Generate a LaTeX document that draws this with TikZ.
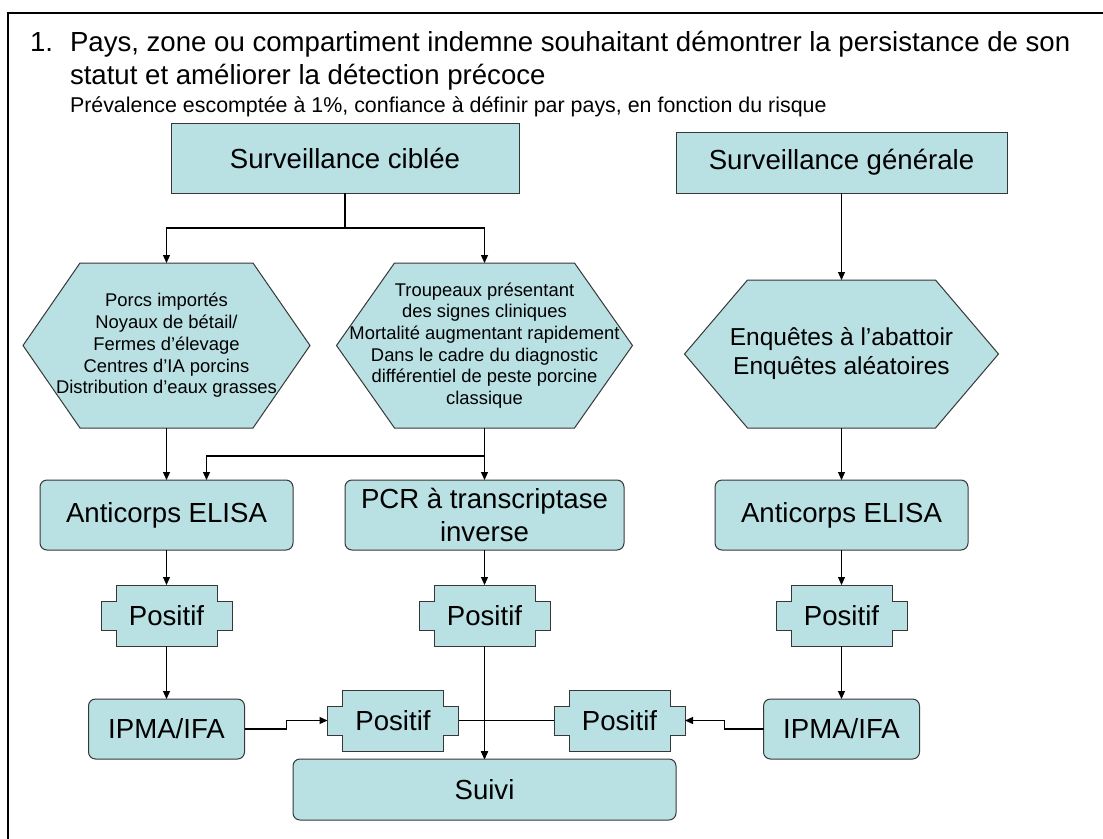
\documentclass[tikz,border=0pt]{standalone}
\usepackage{fontspec}
\setmainfont{Liberation Sans}
\usepackage{xcolor}
\usepackage{tikz}
\usetikzlibrary{arrows.meta,backgrounds}
\definecolor{cyanfill}{RGB}{185,224,227}
\definecolor{edge}{RGB}{55,55,55}
\newcommand{\boxfont}{\fontsize{27.6}{33}\selectfont}
\newcommand{\hexfont}{\fontsize{18.4}{21.7}\selectfont}
\newcommand{\enqfont}{\fontsize{24.5}{29}\selectfont}
\newcommand{\subfont}{\fontsize{21.4}{25}\selectfont}
\tikzset{
  titre/.style={inner sep=0pt, outer sep=0pt, anchor=base west, font=\boxfont},
  soustitre/.style={inner sep=0pt, outer sep=0pt, anchor=base west, font=\subfont},
  sqbox/.style={draw=edge, fill=cyanfill, line width=1pt, inner sep=0pt, outer sep=0pt, align=center, font=\boxfont},
  rbox/.style={sqbox, rounded corners=7pt},
  hexnode/.style={inner sep=0pt, outer sep=0pt, align=center, font=\hexfont},
  posnode/.style={inner sep=0pt, outer sep=0pt, minimum width=131pt, minimum height=61pt, font=\boxfont},
  shapeline/.style={draw=edge, fill=cyanfill, line width=1pt},
  line/.style={-{Triangle[length=8pt,width=7pt]}, line width=1.2pt}
}
\newcommand{\hexout}[2]{\draw[shapeline] ([xshift=#2]#1.north west) -- ([xshift=-#2]#1.north east) -- (#1.east) -- ([xshift=-#2]#1.south east) -- ([xshift=#2]#1.south west) -- (#1.west) -- cycle;}
\newcommand{\posout}[1]{\draw[shapeline] ([xshift=15pt]#1.north west) -- ([xshift=-15pt]#1.north east) -- ([xshift=-15pt,yshift=-16pt]#1.north east) -- ([yshift=-16pt]#1.north east) -- ([yshift=16pt]#1.south east) -- ([xshift=-15pt,yshift=16pt]#1.south east) -- ([xshift=-15pt]#1.south east) -- ([xshift=15pt]#1.south west) -- ([xshift=15pt,yshift=16pt]#1.south west) -- ([yshift=16pt]#1.south west) -- ([yshift=-16pt]#1.north west) -- ([xshift=15pt,yshift=-16pt]#1.north west) -- cycle;}

\begin{document}
\begin{tikzpicture}[x=1pt,y=-1pt]
        \useasboundingbox (0,0) rectangle (1103,838);
        \draw[line width=2pt] (8,840) -- (8,13) -- (1105,13);
        \node[titre] (num) at (30,51) {1.};
        \node[titre] (ligneA) at (70,51) {Pays, zone ou compartiment indemne souhaitant démontrer la persistance de son};
        \node[titre] (ligneB) at (70,84) {statut et améliorer la détection précoce};
        \node[soustitre] (prev) at (70,112) {Prévalence escomptée à 1\%, confiance à définir par pays, en fonction du risque};
        \node[sqbox, minimum width=348pt, minimum height=70pt] (ciblee) at (345,158) {Surveillance ciblée};
        \node[sqbox, minimum width=331pt, minimum height=61pt] (generale) at (841.5,162.5) {Surveillance générale};
        \node[hexnode, minimum width=287pt, minimum height=165pt] (porcs) at (166.5,345.5) {Porcs importés\\Noyaux de bétail/\\Fermes d’élevage\\Centres d’IA porcins\\Distribution d’eaux grasses};
        \node[hexnode, minimum width=296pt, minimum height=165pt] (signes) at (484.5,345.5) {Troupeaux présentant\\des signes cliniques\\Mortalité augmentant rapidement\\Dans le cadre du diagnostic\\différentiel de peste porcine\\classique};
        \node[hexnode, font=\enqfont, minimum width=314pt, minimum height=148pt] (abattoir) at (841.5,354) {Enquêtes à l’abattoir\\Enquêtes aléatoires};
        \node[rbox, minimum width=253pt, minimum height=70pt] (elisaA) at (166.5,515) {Anticorps ELISA};
        \node[rbox, minimum width=279pt, minimum height=70pt] (pcr) at (484.5,515) {PCR à transcriptase\\inverse};
        \node[rbox, minimum width=253pt, minimum height=70pt] (elisaC) at (841.5,515) {Anticorps ELISA};
        \node[posnode] (posA) at (166.5,615.5) {Positif};
        \node[posnode] (posB) at (484.5,615.5) {Positif};
        \node[posnode] (posC) at (841.5,615.5) {Positif};
        \node[rbox, minimum width=156pt, minimum height=60pt] (ipmaA) at (166.5,729) {IPMA/IFA};
        \node[rbox, minimum width=156pt, minimum height=60pt] (ipmaC) at (841.5,729) {IPMA/IFA};
        \node[posnode] (posD) at (393,720.5) {Positif};
        \node[posnode] (posE) at (619.5,720.5) {Positif};
        \node[rbox, minimum width=383pt, minimum height=61pt] (suivi) at (484.5,789.5) {Suivi};
        \begin{scope}[on background layer]
          \hexout{porcs}{57pt}
          \hexout{signes}{58pt}
          \hexout{abattoir}{63pt}
          \foreach \p in {posA,posB,posC,posD,posE} {\posout{\p}}
        \end{scope}
        \draw[line] (ciblee.south) -- ++(0,35) -| (porcs.north);
        \draw[line] (ciblee.south) -- ++(0,35) -| (signes.north);
        \draw[line] (generale) -- (abattoir);
        \draw[line] (porcs) -- (elisaA);
        \draw[line] (signes) -- (pcr);
        \draw[line] (signes.south) -- ++(0,28) -| ([xshift=40pt]elisaA.north);
        \draw[line] (abattoir) -- (elisaC);
        \draw[line] (elisaA) -- (posA);
        \draw[line] (pcr) -- (posB);
        \draw[line] (elisaC) -- (posC);
        \draw[line] (posA) -- (ipmaA);
        \draw[line] (posC) -- (ipmaC);
        \draw[line] (ipmaA.east) -- ++(42,0) |- (posD.west);
        \draw[line] (ipmaC.west) -- ++(-39,0) |- (posE.east);
        \draw[line] (posD.east) -| (suivi.north);
        \draw[line] (posE.west) -| (suivi.north);
        \draw[line] (posB) -- (suivi);
      \end{tikzpicture}
\end{document}
